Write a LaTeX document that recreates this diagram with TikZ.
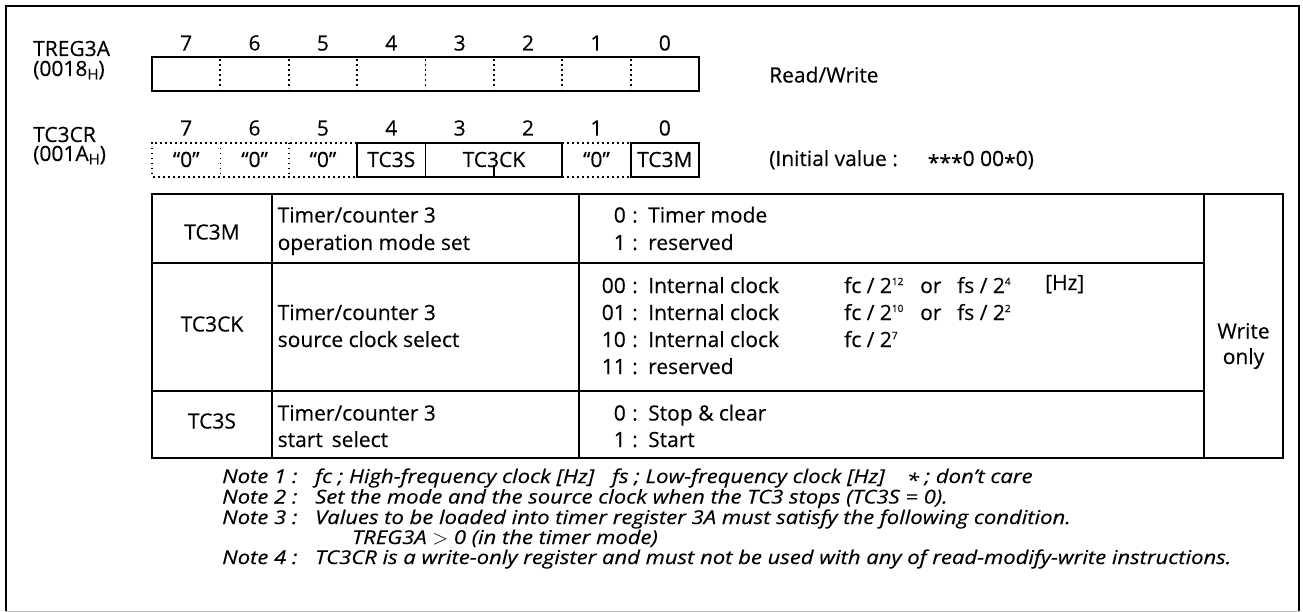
\documentclass[tikz,border=0pt]{standalone}
\usepackage{fontspec}
\setmainfont{Open Sans}[FakeBold=0.3]
\newfontfamily\notefont{Open Sans}[FakeStretch=1.16, FakeBold=0.3]
\newcommand\hsubH{\raisebox{-3.5pt}{\fontsize{15}{15}\selectfont H}}
\newcommand\supx[1]{\raisebox{8pt}{\fontsize{10}{10}\selectfont #1}}
\newcommand\stx{\raisebox{-4pt}{*}}
\begin{document}
\begin{tikzpicture}[x=1pt,y=-1pt,
  txt/.style={inner sep=0pt, font=\fontsize{21}{25}\selectfont},
  txtw/.style={txt, anchor=base west},
  txtc/.style={txt, anchor=base},
  txte/.style={txt, anchor=base east},
  notetxt/.style={inner sep=0pt, anchor=base west, font=\notefont\fontsize{19}{22}\selectfont\itshape},
  rule/.style={line width=1.9pt},
  dotrule/.style={line width=1.8pt, dash pattern=on 1.8pt off 3.2pt}]
\useasboundingbox (0,0) rectangle (1303,612);
% outer frame
\draw[rule] (6,611) -- (6,6) -- (1299,6) -- (1299,611);
\draw[line width=1pt, black!25] (6,611) -- (1299,611);

% register labels
\node[txtw] (tregname) at (33,56) {TREG3A};
\node[txtw] (tregaddr) at (33,76) {(0018\hsubH)};
\node[txtw] (crname) at (33,142) {TC3CR};
\node[txtw] (craddr) at (33,161) {(001A\hsubH)};

% bit numbers
\foreach \b in {0,...,7} {
  \pgfmathsetmacro\cx{152+68.375*(7-\b)+34.19}
  \node[txtc] (ta\b) at (\cx,50.5) {\b};
  \node[txtc] (tb\b) at (\cx,135.5) {\b};
}

% TREG3A box
\foreach \k in {1,...,7}
  \draw[dotrule] ({152+68.375*\k},59.5) -- ({152+68.375*\k},89.5);
\draw[rule] (152,57.3) rectangle (699,91.3);
\node[txtw] (rw) at (769,82.5) {Read/Write};

% TC3CR box
\draw[dotrule] (357.1,142.7) -- (152,142.7) -- (152,176.7) -- (357.1,176.7);
\draw[dotrule] (220.4,142.7) -- (220.4,176.7);
\draw[dotrule] (288.75,142.7) -- (288.75,176.7);
\draw[dotrule] (562.25,142.7) -- (630.6,142.7);
\draw[dotrule] (562.25,176.7) -- (630.6,176.7);
\draw[rule] (357.1,142.7) rectangle (562.25,176.7);
\draw[rule] (425.5,142.7) -- (425.5,176.7);
\draw[rule] (493.9,176.7) -- (493.9,165.5);
\draw[rule] (630.6,142.7) rectangle (699,176.7);
\node[txtc] (z7) at (186.2,167) {“0”};
\node[txtc] (z6) at (254.6,167) {“0”};
\node[txtc] (z5) at (322.9,167) {“0”};
\node[txtc] (z1) at (596.4,167) {“0”};
\node[txtc] (f4) at (391.3,167) {TC3S};
\node[txtc] (f3) at (493.9,167) {TC3CK};
\node[txtc] (f0) at (664.8,167) {TC3M};
\node[txtw] (init) at (769,166) {(Initial value :\hspace{30pt}\stx\stx\stx0 00\stx0)};

% table
\draw[rule] (152,194) rectangle (1283,458);
\draw[rule] (152,262.7) -- (1204,262.7);
\draw[rule] (152,390.7) -- (1204,390.7);
\draw[rule] (272.3,194) -- (272.3,458);
\draw[rule] (579.3,194) -- (579.3,458);
\draw[rule] (1204,194) -- (1204,458);

\node[txtc] (n1) at (212,239.5) {TC3M};
\node[txtc] (n2) at (212,331.5) {TC3CK};
\node[txtc] (n3) at (212,428.5) {TC3S};

\node[txtw] (d1a) at (277.5,222.5) {Timer/counter 3};
\node[txtw] (d1b) at (277.5,250) {operation mode set};
\node[txtw] (d2a) at (277.5,320) {Timer/counter 3};
\node[txtw] (d2b) at (277.5,347) {source clock select};
\node[txtw] (d3a) at (277.5,420.5) {Timer/counter 3};
\node[txtw] (d3b) at (277.5,447) {start\, select};

% row 1 options
\node[txte] (c10) at (626,222.5) {0};
\node[txtc] (k10) at (635,222.5) {:};
\node[txtw] (v10) at (648,222.5) {Timer mode};
\node[txte] (c11) at (626,250) {1};
\node[txtc] (k11) at (635,250) {:};
\node[txtw] (v11) at (648,250) {reserved};
% row 2 options
\node[txte] (c20) at (626,293) {00};
\node[txtc] (k20) at (635,293) {:};
\node[txtw] (v20) at (648,293) {Internal clock};
\node[txte] (c21) at (626,320) {01};
\node[txtc] (k21) at (635,320) {:};
\node[txtw] (v21) at (648,320) {Internal clock};
\node[txte] (c22) at (626,347) {10};
\node[txtc] (k22) at (635,347) {:};
\node[txtw] (v22) at (648,347) {Internal clock};
\node[txte] (c23) at (626,374) {11};
\node[txtc] (k23) at (635,374) {:};
\node[txtw] (v23) at (648,374) {reserved};
\node[txtw] (fa0) at (844,293) {fc / 2\supx{12}};
\node[txtw] (fa1) at (844,320) {fc / 2\supx{10}};
\node[txtw] (fa2) at (844,347) {fc / 2\supx{7}};
\node[txtw] (or0) at (920,293) {or};
\node[txtw] (or1) at (920,320) {or};
\node[txtw] (fb0) at (957,293) {fs / 2\supx{4}};
\node[txtw] (fb1) at (957,320) {fs / 2\supx{2}};
\node[txtw] (hz) at (1045,290) {[Hz]};
% row 3 options
\node[txte] (c30) at (626,420.5) {0};
\node[txtc] (k30) at (635,420.5) {:};
\node[txtw] (v30) at (648,420.5) {Stop \& clear};
\node[txte] (c31) at (626,447) {1};
\node[txtc] (k31) at (635,447) {:};
\node[txtw] (v31) at (648,447) {Start};

\node[txtc] (wo1) at (1243.5,338.5) {Write};
\node[txtc] (wo2) at (1243.5,364) {only};

% notes
\node[notetxt] (l1) at (222,483) {Note 1 :};
\node[notetxt] (t1) at (315,483) {fc ; High-frequency clock [Hz]\hspace{18pt}fs ; Low-frequency clock [Hz]\hspace{22pt}\stx\ ; don’t care};
\node[notetxt] (l2) at (222,503.5) {Note 2 :};
\node[notetxt] (t2) at (315,503.5) {Set the mode and the source clock when the TC3 stops (TC3S = 0).};
\node[notetxt] (l3) at (222,524) {Note 3 :};
\node[notetxt] (t3) at (315,524) {Values to be loaded into timer register 3A must satisfy the following condition.};
\node[notetxt] (t3b) at (352,544) {TREG3A {\upshape\fontsize{22}{22}\selectfont$>$} 0 (in the timer mode)};
\node[notetxt] (l4) at (222,564) {Note 4 :};
\node[notetxt] (t4) at (315,564) {TC3CR is a write-only register and must not be used with any of read-modify-write instructions.};
\end{tikzpicture}
\end{document}
